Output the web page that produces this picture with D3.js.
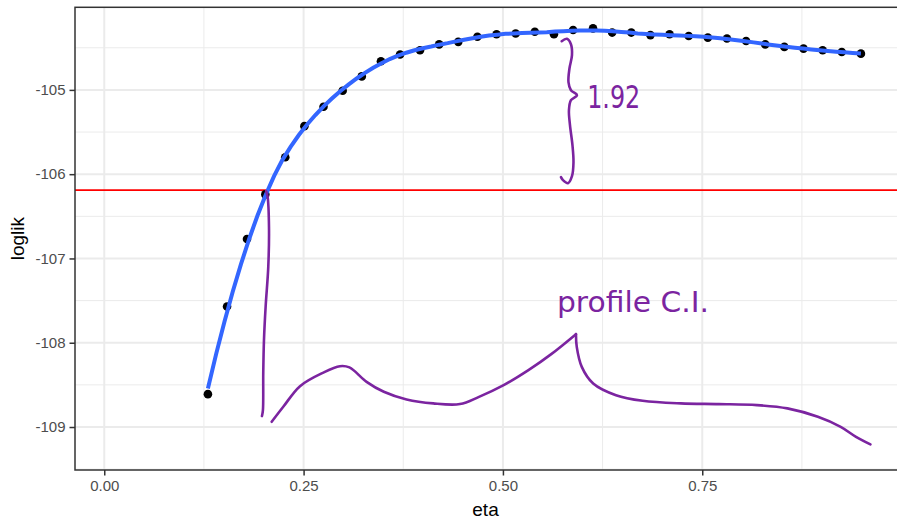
<!DOCTYPE html>
<html>
<head>
<meta charset="utf-8">
<script src="https://cdn.jsdelivr.net/npm/d3@7"></script>
<style>
  html, body { margin: 0; padding: 0; background: #ffffff; }
  svg { display: block; }
</style>
</head>
<body>
<svg id="chart" width="897" height="519"></svg>
<script>
// ---------------- data ----------------
const eta = [0.130, 0.154, 0.179, 0.202, 0.227, 0.251, 0.275, 0.299, 0.323, 0.347,
             0.371, 0.396, 0.420, 0.444, 0.468, 0.492, 0.516, 0.540, 0.564, 0.588,
             0.613, 0.637, 0.661, 0.685, 0.709, 0.733, 0.757, 0.781, 0.805, 0.829,
             0.853, 0.877, 0.901, 0.925, 0.949];
const loglik = [-108.61, -107.57, -106.77, -106.24, -105.80, -105.43, -105.20, -105.01, -104.84, -104.66,
                -104.58, -104.53, -104.46, -104.43, -104.37, -104.34, -104.33, -104.31, -104.34, -104.29,
                -104.27, -104.32, -104.32, -104.35, -104.34, -104.36, -104.38, -104.39, -104.42, -104.46,
                -104.49, -104.51, -104.53, -104.55, -104.57];
const cutoffDrop = 1.92;
const smoothSpan = 0.3;

const xTicks = [0, 0.25, 0.5, 0.75];
const xTickLabels = ["0.00", "0.25", "0.50", "0.75"];
const xMinor = [0.125, 0.375, 0.625, 0.875];
const yTicks = [-109, -108, -107, -106, -105];
const yTickLabels = ["-109", "-108", "-107", "-106", "-105"];
const yMinor = [-109.5, -108.5, -107.5, -106.5, -105.5, -104.5];
const xDomain = [-0.0367, 0.9955];
const yDomain = [-109.51, -104.02];

// hand-drawn annotations (in data units)
const braceEta = [0.5737, 0.5803, 0.5853, 0.5866, 0.5835, 0.5822, 0.5853, 0.5929, 0.5853, 0.5828, 0.5841, 0.5872, 0.5885, 0.5866, 0.5816, 0.5753, 0.5728];
const braceLL  = [-104.422, -104.393, -104.458, -104.588, -104.743, -104.909, -105.004, -105.063, -105.122, -105.241, -105.419, -105.656, -105.858, -106.024, -106.107, -106.071, -106.036];
const dropEta = [0.2030, 0.2049, 0.2066, 0.2057, 0.2024, 0.2003, 0.1994, 0.1990, 0.1978];
const dropLL  = [-106.20, -106.27, -106.63, -107.10, -107.57, -107.97, -108.36, -108.80, -108.87];
const waveEta = [0.2100, 0.2245, 0.2455, 0.2741, 0.2956, 0.3075, 0.3290, 0.3506, 0.3792, 0.4126,
                 0.4461, 0.4700, 0.5009, 0.5320, 0.5606, 0.5916];
const waveLL  = [-108.938, -108.760, -108.515, -108.357, -108.278, -108.293, -108.464, -108.582, -108.673, -108.720,
                 -108.728, -108.642, -108.503, -108.325, -108.135, -107.898];
const wave2Eta = [0.5916, 0.5926, 0.5989, 0.6132, 0.6418, 0.6753, 0.7231, 0.7708, 0.8186, 0.8568, 0.8950, 0.9236, 0.9428, 0.9609];
const wave2LL  = [-107.898, -108.049, -108.286, -108.483, -108.622, -108.689, -108.720, -108.728, -108.740, -108.779, -108.879, -108.998, -109.116, -109.206];
const noteDiff = "1.92";
const noteCI = "profile C.I.";

// ---------------- layout ----------------
const panel = { left: 75, right: 898, top: 7.3, bottom: 470 };
const svg = d3.select("#chart");
const x = d3.scaleLinear().domain(xDomain).range([panel.left, panel.right]);
const y = d3.scaleLinear().domain(yDomain).range([panel.bottom, panel.top]);
const font = "'Liberation Sans', Arial, Helvetica, sans-serif";

svg.append("rect").attr("x", panel.left).attr("y", panel.top)
  .attr("width", panel.right - panel.left).attr("height", panel.bottom - panel.top)
  .attr("fill", "#ffffff");

svg.append("defs").append("clipPath").attr("id", "clip")
  .append("rect").attr("x", panel.left).attr("y", panel.top)
  .attr("width", panel.right - panel.left).attr("height", panel.bottom - panel.top);

const grid = svg.append("g").attr("clip-path", "url(#clip)");
grid.selectAll(".xmin").data(xMinor).join("line")
  .attr("x1", d => x(d)).attr("x2", d => x(d)).attr("y1", panel.top).attr("y2", panel.bottom)
  .attr("stroke", "#ebebeb").attr("stroke-width", 1);
grid.selectAll(".ymin").data(yMinor).join("line")
  .attr("y1", d => y(d)).attr("y2", d => y(d)).attr("x1", panel.left).attr("x2", panel.right)
  .attr("stroke", "#ebebeb").attr("stroke-width", 1);
grid.selectAll(".xmaj").data(xTicks).join("line")
  .attr("x1", d => x(d)).attr("x2", d => x(d)).attr("y1", panel.top).attr("y2", panel.bottom)
  .attr("stroke", "#ebebeb").attr("stroke-width", 2);
grid.selectAll(".ymaj").data(yTicks).join("line")
  .attr("y1", d => y(d)).attr("y2", d => y(d)).attr("x1", panel.left).attr("x2", panel.right)
  .attr("stroke", "#ebebeb").attr("stroke-width", 2);

// ---------------- loess smoother (degree 2, tricube weights) ----------------
function loessAt(xs, ys, span, x0) {
  const n = xs.length;
  const q = Math.floor(n * span);
  const d = xs.map(v => Math.abs(v - x0));
  const sorted = d.slice().sort((a, b) => a - b);
  const h = sorted[q - 1] * 1.0000001;
  const S = [[0,0,0],[0,0,0],[0,0,0]], B = [0,0,0];
  for (let i = 0; i < n; i++) {
    const u = d[i] / h;
    if (u >= 1) continue;
    const w = Math.pow(1 - u*u*u, 3);
    const t = xs[i] - x0;
    const f = [1, t, t*t];
    for (let a = 0; a < 3; a++) {
      B[a] += w * f[a] * ys[i];
      for (let b = 0; b < 3; b++) S[a][b] += w * f[a] * f[b];
    }
  }
  const M = S.map((r, i) => r.concat([B[i]]));
  for (let c = 0; c < 3; c++) {
    let p = c;
    for (let r = c + 1; r < 3; r++) if (Math.abs(M[r][c]) > Math.abs(M[p][c])) p = r;
    [M[c], M[p]] = [M[p], M[c]];
    for (let r = c + 1; r < 3; r++) {
      const f = M[r][c] / M[c][c];
      for (let k = c; k < 4; k++) M[r][k] -= f * M[c][k];
    }
  }
  const sol = [0,0,0];
  for (let r = 2; r >= 0; r--) {
    let s = M[r][3];
    for (let k = r + 1; k < 3; k++) s -= M[r][k] * sol[k];
    sol[r] = s / M[r][r];
  }
  return sol[0];
}
const xmin = d3.min(eta), xmax = d3.max(eta);
const smooth = d3.range(80).map(i => {
  const xv = xmin + (xmax - xmin) * i / 79;
  return [xv, loessAt(eta, loglik, smoothSpan, xv)];
});

const plot = svg.append("g").attr("clip-path", "url(#clip)");

// cutoff line
const cutoff = d3.max(loglik) - cutoffDrop;
plot.append("line").attr("x1", panel.left).attr("x2", panel.right)
  .attr("y1", y(cutoff)).attr("y2", y(cutoff))
  .attr("stroke", "#ff0000").attr("stroke-width", 1.8);

// points
plot.selectAll(".pt").data(eta.map((e, i) => [e, loglik[i]])).join("circle")
  .attr("cx", d => x(d[0])).attr("cy", d => y(d[1])).attr("r", 4.3).attr("fill", "#000000");

// smooth line
plot.append("path").datum(smooth)
  .attr("d", d3.line().x(d => x(d[0])).y(d => y(d[1])))
  .attr("fill", "none").attr("stroke", "#3366ff").attr("stroke-width", 4);

// annotations
const purple = "#7b24a0";
const aline = d3.line().x(d => x(d[0])).y(d => y(d[1])).curve(d3.curveCatmullRom.alpha(0.5));
const annos = [[braceEta, braceLL], [dropEta, dropLL], [waveEta, waveLL], [wave2Eta, wave2LL]];
annos.forEach(([ex, ly]) => {
  plot.append("path").datum(ex.map((e, i) => [e, ly[i]]))
    .attr("d", aline).attr("fill", "none").attr("stroke", purple)
    .attr("stroke-width", 2.6).attr("stroke-linecap", "round").attr("stroke-linejoin", "round");
});
plot.append("text").attr("x", x(0.6057)).attr("y", y(-105.215))
  .attr("font-family", "'DejaVu Sans', sans-serif")
  .attr("font-size", 32).attr("fill", purple)
  .attr("textLength", 53).attr("lengthAdjust", "spacingAndGlyphs")
  .text(noteDiff);
plot.append("text").attr("x", x(0.5678)).attr("y", y(-107.63))
  .attr("font-family", "'DejaVu Sans', sans-serif")
  .attr("font-size", 29).attr("fill", purple)
  .attr("textLength", 152).attr("lengthAdjust", "spacingAndGlyphs")
  .text(noteCI);

// panel border
svg.append("rect").attr("x", panel.left).attr("y", panel.top)
  .attr("width", panel.right - panel.left).attr("height", panel.bottom - panel.top)
  .attr("fill", "none").attr("stroke", "#333333").attr("stroke-width", 1.5);

// axes
const xAxis = d3.axisBottom(x).tickValues(xTicks)
  .tickFormat((d, i) => xTickLabels[i]).tickSize(5.5).tickPadding(4.5);
const gx = svg.append("g").attr("transform", `translate(0,${panel.bottom})`).call(xAxis);
const yAxis = d3.axisLeft(y).tickValues(yTicks)
  .tickFormat((d, i) => yTickLabels[i]).tickSize(5.5).tickPadding(4);
const gy = svg.append("g").attr("transform", `translate(${panel.left},0)`).call(yAxis);
[gx, gy].forEach(g => {
  g.select(".domain").remove();
  g.selectAll(".tick line").attr("stroke", "#333333").attr("stroke-width", 1.5);
  g.selectAll(".tick text").attr("fill", "#4d4d4d").attr("font-size", 15).attr("font-family", font);
});

// axis titles
svg.append("text").attr("x", (panel.left + panel.right) / 2 - 1).attr("y", 516)
  .attr("text-anchor", "middle").attr("font-family", font).attr("font-size", 19)
  .attr("fill", "#000000").text("eta");
svg.append("text").attr("transform", `translate(23.5,${(panel.top + panel.bottom) / 2}) rotate(-90)`)
  .attr("text-anchor", "middle").attr("font-family", font).attr("font-size", 19)
  .attr("fill", "#000000").text("loglik");
</script>
</body>
</html>
